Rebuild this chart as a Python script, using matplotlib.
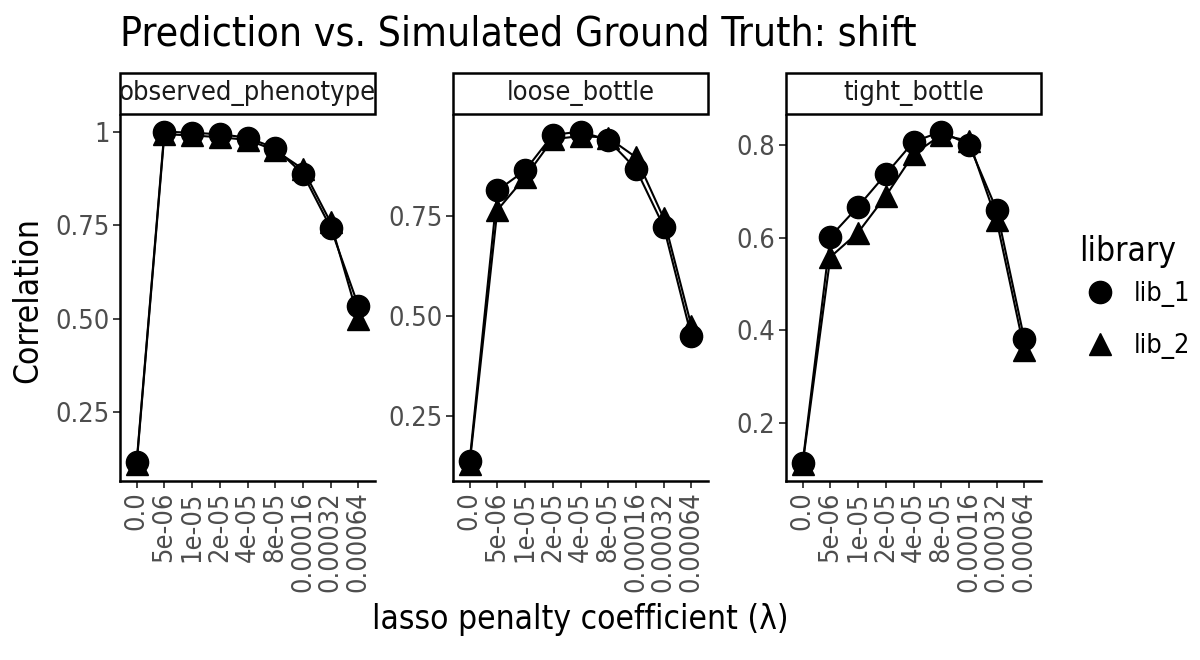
import matplotlib
matplotlib.use("Agg")
import matplotlib.pyplot as plt
from matplotlib.lines import Line2D
from matplotlib.patches import Rectangle

plt.rcParams["font.stretch"] = "condensed"

# data
lambdas = ["0.0", "5e-06", "1e-05", "2e-05", "4e-05", "8e-05", "0.00016", "0.00032", "0.00064"]
panels = ["observed_phenotype", "loose_bottle", "tight_bottle"]

obs_lib1 = [0.115, 1.0, 0.997, 0.993, 0.984, 0.956, 0.887, 0.743, 0.534]
obs_lib2 = [0.11, 0.993, 0.99, 0.985, 0.978, 0.95, 0.90, 0.757, 0.50]
loose_lib1 = [0.138, 0.814, 0.864, 0.953, 0.961, 0.94, 0.868, 0.724, 0.45]
loose_lib2 = [0.13, 0.765, 0.847, 0.942, 0.95, 0.946, 0.897, 0.745, 0.476]
tight_lib1 = [0.113, 0.602, 0.667, 0.737, 0.807, 0.829, 0.801, 0.66, 0.38]
tight_lib2 = [0.11, 0.558, 0.611, 0.69, 0.78, 0.822, 0.809, 0.637, 0.357]

yticks = [[0.25, 0.5, 0.75, 1.0], [0.25, 0.5, 0.75], [0.2, 0.4, 0.6, 0.8]]
yticklabels = [["0.25", "0.50", "0.75", "1"], ["0.25", "0.50", "0.75"], ["0.2", "0.4", "0.6", "0.8"]]

series = [(obs_lib1, obs_lib2), (loose_lib1, loose_lib2), (tight_lib1, tight_lib2)]

W, H = 1200, 660
fig = plt.figure(figsize=(12, 6.6), dpi=100)

lefts = [120, 453, 786]
pw = 255
top, bottom = 115, 481
x = list(range(len(lambdas)))

for i, (l1, l2) in enumerate(series):
    ax = fig.add_axes([lefts[i] / W, 1 - bottom / H, pw / W, (bottom - top) / H])
    ax.plot(x, l1, color="black", lw=1.5, marker="o", ms=16, zorder=3)
    ax.plot(x, l2, color="black", lw=1.5, marker="^", ms=16, zorder=3)
    lo = min(l1 + l2)
    hi = max(l1 + l2)
    pad = (hi - lo) * 0.05
    ax.set_ylim(lo - pad, hi + pad)
    ax.set_xlim(-0.6, 8.6)
    ax.set_xticks(x)
    ax.set_xticklabels(lambdas, rotation=90, fontsize=19.5, color="#4d4d4d")
    ax.set_yticks(yticks[i])
    ax.set_yticklabels(yticklabels[i], fontsize=19.5, color="#4d4d4d")
    ax.spines["top"].set_visible(False)
    ax.spines["right"].set_visible(False)
    ax.spines["left"].set_linewidth(1.8)
    ax.spines["bottom"].set_linewidth(1.8)
    ax.tick_params(length=5, width=1.3, color="#333333", pad=2.5)

    # strip above panel
    fig.add_artist(Rectangle((lefts[i] / W, 1 - 114 / H), pw / W, 41 / H,
                             transform=fig.transFigure, facecolor="white",
                             edgecolor="black", lw=1.8))
    fig.text((lefts[i] + pw / 2) / W, 1 - 93.5 / H, panels[i], ha="center", va="center",
             fontsize=19.5, color="#1a1a1a")

fig.text(120 / W, 1 - 46 / H, "Prediction vs. Simulated Ground Truth: shift",
         ha="left", va="baseline", fontsize=29.3)
fig.text(28 / W, 1 - 300 / H, "Correlation", rotation=90, ha="center", va="center",
         fontsize=24)
fig.text(580 / W, 1 - 620 / H, "lasso penalty coefficient (λ)", ha="center", va="center",
         fontsize=24)

handles = [Line2D([], [], color="black", marker="o", ls="none", ms=16),
           Line2D([], [], color="black", marker="^", ls="none", ms=16)]
leg = fig.legend(handles, ["lib_1", "lib_2"], title="library", loc="upper left",
                 bbox_to_anchor=(1066 / W, 1 - 221 / H), frameon=False,
                 fontsize=19.5, title_fontsize=24, labelspacing=0.95,
                 handletextpad=0.5, handlelength=1.5, borderpad=0)
leg._legend_box.align = "left"
leg._legend_box.sep = 10

fig.savefig("out.png", dpi=100)
